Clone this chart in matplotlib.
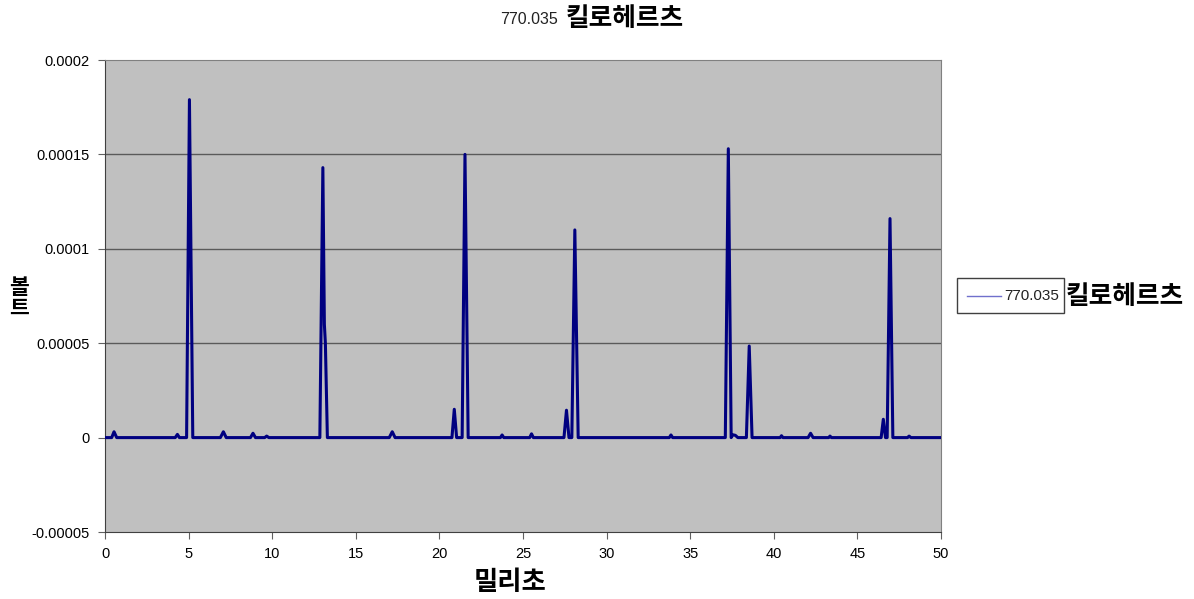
import matplotlib
matplotlib.use("Agg")
from matplotlib import pyplot as plt
from matplotlib.patches import Rectangle
from matplotlib.lines import Line2D

# trace vertices (milliseconds, volts)
time_ms = [0, 0.4, 0.54, 0.7, 4.2, 4.33, 4.45, 4.88, 5.05, 5.25,
           6.9, 7.08, 7.25, 8.7, 8.85, 9.0, 9.55, 9.67, 9.8,
           12.85, 13.03, 13.12, 13.18, 13.3, 17.0, 17.18, 17.35,
           20.75, 20.89, 21.03, 21.36, 21.53, 21.72, 23.65, 23.75, 23.85,
           25.4, 25.51, 25.62, 27.45, 27.6, 27.75, 27.92, 28.1, 28.3,
           33.75, 33.85, 33.95, 37.1, 37.28, 37.45, 37.55, 37.7, 37.85,
           38.36, 38.53, 38.7, 40.38, 40.46, 40.55, 42.05, 42.2, 42.35,
           43.28, 43.36, 43.45, 46.42, 46.55, 46.68, 46.78, 46.95, 47.12,
           48.0, 48.09, 48.2, 50]
volts = [0, 0, 3.1e-6, 0, 0, 1.7e-6, 0, 0, 1.79e-4, 0,
         0, 3.1e-6, 0, 0, 2.3e-6, 0, 0, 8e-7, 0,
         0, 1.43e-4, 6.0e-5, 5.0e-5, 0, 0, 3.1e-6, 0,
         0, 1.5e-5, 0, 0, 1.5e-4, 0, 0, 1.4e-6, 0,
         0, 2.0e-6, 0, 0, 1.45e-5, 0, 0, 1.1e-4, 0,
         0, 1.4e-6, 0, 0, 1.53e-4, 0, 1.5e-6, 1.2e-6, 0,
         0, 4.85e-5, 0, 0, 1.0e-6, 0, 0, 2.3e-6, 0,
         0, 8e-7, 0, 0, 9.7e-6, 0, 0, 1.16e-4, 0,
         0, 8e-7, 0, 0]

x_ticks = [0, 5, 10, 15, 20, 25, 30, 35, 40, 45, 50]
y_ticks = [-0.00005, 0, 0.00005, 0.0001, 0.00015, 0.0002]
y_labels = ["-0.00005", "0", "0.00005", "0.0001", "0.00015", "0.0002"]
series_num = "770.035"
series_unit = "킬로헤르츠"

kr = ["Noto Sans CJK KR", "DejaVu Sans"]
num = ["Liberation Sans", "DejaVu Sans"]

fig = plt.figure(figsize=(11.94, 5.99), dpi=100)
ax = fig.add_axes([105 / 1194, 1 - 532 / 599, 836 / 1194, 472 / 599])
ax.set_facecolor("#c0c0c0")

ax.plot(time_ms, volts, color="#000080", lw=2.2, solid_joinstyle="round", zorder=3)

ax.set_xlim(0, 50)
ax.set_ylim(-0.00005, 0.0002)
ax.set_xticks(x_ticks)
ax.set_yticks(y_ticks)
ax.set_yticklabels(y_labels)
for lbl in ax.get_xticklabels() + ax.get_yticklabels():
    lbl.set_family(num)
    lbl.set_fontsize(10.5)
ax.tick_params(direction="out", length=5, color="#606060", pad=6)

for v in [0.00005, 0.0001, 0.00015]:
    ax.axhline(v, color="#5a5a5a", lw=1, zorder=1)
for s in ax.spines.values():
    s.set_color("#808080")
ax.spines["left"].set_color("#404040")
ax.spines["bottom"].set_color("#404040")

# title: small number + bold unit
fig.text(558 / 1194, 1 - 12 / 599, series_num, family=num, fontsize=11.5,
         ha="right", va="top", color="#222222")
fig.text(566 / 1194, 1 - 5 / 599, series_unit, family=kr, fontsize=18.5,
         fontweight="bold", ha="left", va="top")

fig.text(510 / 1194, 1 - 583 / 599, "밀리초", family=kr, fontsize=19,
         fontweight="bold", ha="center", va="center")
fig.text(19 / 1194, 1 - 298 / 599, "볼\n트", family=kr, fontsize=15.5,
         fontweight="bold", ha="center", va="center", linespacing=1.0)

# legend drawn the Excel way, text spilling out of the box
fig.add_artist(Rectangle((957 / 1194, 1 - 313 / 599), 107 / 1194, 35 / 599,
                         transform=fig.transFigure, facecolor="white",
                         edgecolor="#404040", lw=1))
fig.add_artist(Line2D([967 / 1194, 1001 / 1194], [1 - 296 / 599, 1 - 296 / 599],
                      transform=fig.transFigure, color="#7070cc", lw=1))
fig.text(1059 / 1194, 1 - 296 / 599, series_num, family=num, fontsize=11,
         ha="right", va="center", color="#222222")
fig.text(1066 / 1194, 1 - 297 / 599, series_unit, family=kr, fontsize=18.5,
         fontweight="bold", ha="left", va="center")

fig.savefig("out.png", dpi=100)
